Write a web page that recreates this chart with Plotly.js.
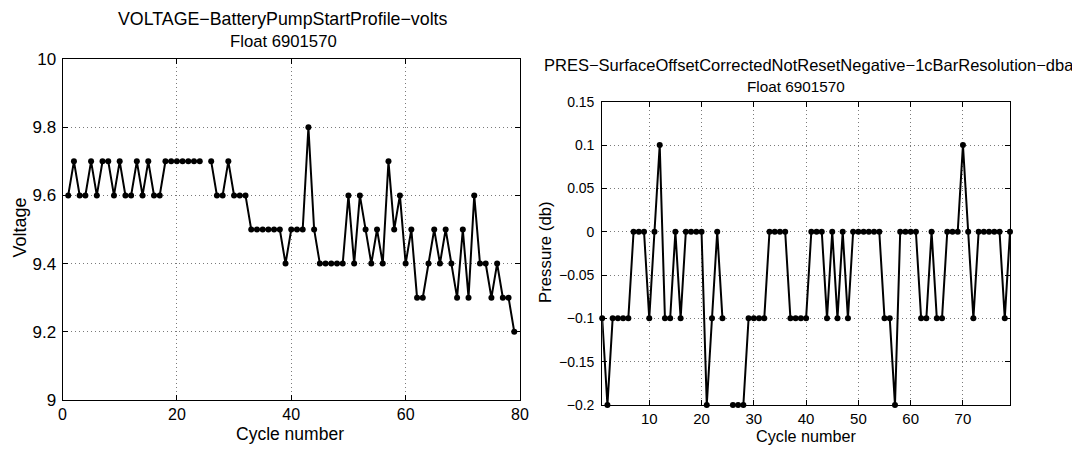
<!DOCTYPE html>
<html>
<head>
<meta charset="utf-8">
<script src="https://cdn.plot.ly/plotly-3.0.1.min.js"></script>
<style>html,body{margin:0;padding:0;background:#fff;overflow:hidden;}#chart{width:1072px;height:450px;}</style>
</head>
<body>
<div id="chart"></div>
<script>
// Data
const cycles = [];
for (let i = 1; i <= 79; i++) cycles.push(i);

const voltage = [
  9.6, 9.7, 9.6, 9.6, 9.7, 9.6, 9.7, 9.7, 9.6, 9.7,
  9.6, 9.6, 9.7, 9.6, 9.7, 9.6, 9.6, 9.7, 9.7, 9.7,
  9.7, 9.7, 9.7, 9.7, null, 9.7, 9.6, 9.6, 9.7, 9.6,
  9.6, 9.6, 9.5, 9.5, 9.5, 9.5, 9.5, 9.5, 9.4, 9.5,
  9.5, 9.5, 9.8, 9.5, 9.4, 9.4, 9.4, 9.4, 9.4, 9.6,
  9.4, 9.6, 9.5, 9.4, 9.5, 9.4, 9.7, 9.5, 9.6, 9.4,
  9.5, 9.3, 9.3, 9.4, 9.5, 9.4, 9.5, 9.4, 9.3, 9.5,
  9.3, 9.6, 9.4, 9.4, 9.3, 9.4, 9.3, 9.3, 9.2
];

const pressure = [
  -0.1, -0.2, -0.1, -0.1, -0.1, -0.1, 0, 0, 0, -0.1,
  0, 0.1, -0.1, -0.1, 0, -0.1, 0, 0, 0, 0,
  -0.2, -0.1, 0, -0.1, null, -0.2, -0.2, -0.2, -0.1, -0.1,
  -0.1, -0.1, 0, 0, 0, 0, -0.1, -0.1, -0.1, -0.1,
  0, 0, 0, -0.1, 0, -0.1, 0, -0.1, 0, 0,
  0, 0, 0, 0, -0.1, -0.1, -0.2, 0, 0, 0,
  0, -0.1, -0.1, 0, -0.1, -0.1, 0, 0, 0, 0.1,
  0, -0.1, 0, 0, 0, 0, 0, -0.1, 0
];

const leftTitle = ['VOLTAGE\u2212BatteryPumpStartProfile\u2212volts', 'Float 6901570'];
const rightTitle = ['PRES\u2212SurfaceOffsetCorrectedNotResetNegative\u22121cBarResolution\u2212dbar', 'Float 6901570'];
const xLabel = 'Cycle number';
const leftYLabel = 'Voltage';
const rightYLabel = 'Pressure (db)';

const W = 1072, H = 450;
const px = x => x / W;
const py = y => 1 - y / H;
const FONT = '"Liberation Sans", Arial, Helvetica, sans-serif';

const lineStyle = {color: '#000', width: 2};
const markerStyle = {color: '#000', size: 6};

const traces = [
  {x: cycles, y: voltage, type: 'scatter', mode: 'lines+markers', line: lineStyle, marker: markerStyle,
   connectgaps: false, cliponaxis: false, xaxis: 'x', yaxis: 'y', hoverinfo: 'x+y'},
  {x: cycles, y: pressure, type: 'scatter', mode: 'lines+markers', line: lineStyle, marker: markerStyle,
   connectgaps: false, cliponaxis: false, xaxis: 'x2', yaxis: 'y2', hoverinfo: 'x+y'}
];

function ax(extra, fontSize) {
  return Object.assign({
    showline: true, linecolor: '#000', linewidth: 1, mirror: 'ticks',
    ticks: 'inside', ticklen: 5, tickcolor: '#000', tickwidth: 1,
    showgrid: true, gridcolor: '#7a7a7a', gridwidth: 1, griddash: '1px,3px',
    zeroline: false, fixedrange: true,
    tickfont: {family: FONT, size: fontSize, color: '#000'}
  }, extra);
}

const ann = (text, x, y, size, angle, xanchor) => ({
  text: text, x: px(x), y: py(y), xref: 'paper', yref: 'paper',
  xanchor: xanchor || 'center', yanchor: 'middle', showarrow: false,
  textangle: angle || 0, font: {family: FONT, size: size, color: '#000'}
});

const layout = {
  width: W, height: H,
  margin: {l: 0, r: 0, t: 0, b: 0},
  paper_bgcolor: '#fff', plot_bgcolor: '#fff',
  showlegend: false,
  xaxis: ax({domain: [px(62.5), px(520)], range: [0, 80], tick0: 0, dtick: 20, anchor: 'y', ticklabelstandoff: 0}, 16),
  yaxis: ax({domain: [py(400), py(59)], range: [9, 10], tick0: 9, dtick: 0.2, anchor: 'x', ticklabelstandoff: 2}, 17),
  xaxis2: ax({domain: [px(602.2), px(1010)], range: [1, 79], tick0: 0, dtick: 10, anchor: 'y2', ticklabelstandoff: 0}, 15),
  yaxis2: ax({domain: [py(405), py(101.7)], range: [-0.2, 0.15], tick0: 0, dtick: 0.05, anchor: 'x2', ticklabelstandoff: 4}, 14),
  annotations: [
    ann(leftTitle[0], 283, 19, 17.8),
    ann(leftTitle[1], 283, 41, 16.7),
    ann(rightTitle[0], 541.7, 65, 16.5, 0, 'left'),
    ann(rightTitle[1], 796, 86, 15.3),
    ann(xLabel, 290, 434, 17.5),
    ann(leftYLabel, 19.5, 228, 18, -90),
    ann(xLabel, 806, 436, 16.2),
    ann(rightYLabel, 545, 252, 16.8, -90)
  ]
};

Plotly.newPlot('chart', traces, layout, {staticPlot: true, displayModeBar: false});
</script>
</body>
</html>
